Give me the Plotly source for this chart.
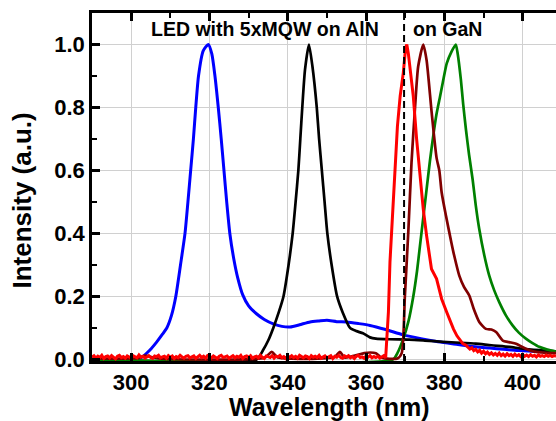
import numpy as np
import plotly.graph_objects as go

# ---- Electroluminescence spectra (normalised) ----
# LED with 5xMQW on AlN, 320 nm emitter
blue_wl = [290, 301, 302.5, 304.8, 306.5, 308, 309.1, 310.3, 311.4, 312.6, 313.75, 314.5,
           315.2, 315.9, 316.5, 317.2, 318.4, 319.7, 320.6, 321.4, 322.25, 323, 323.7, 324.4,
           325.2, 326.2, 327.2, 328.5, 330, 332, 334, 336.3, 338.5, 340.6, 343, 345.7,
           348, 350, 352.5, 355, 358, 361, 365, 369.5, 374, 378, 382, 386.5, 391.6, 395,
           399, 404, 408.5]
blue_int = [0, 0, 0.005, 0.03, 0.055, 0.08, 0.1, 0.14, 0.2, 0.3, 0.4, 0.5,
            0.6, 0.7, 0.8, 0.9, 0.98, 1.0, 0.97, 0.9, 0.8, 0.7, 0.6, 0.5,
            0.4, 0.32, 0.26, 0.205, 0.17, 0.145, 0.127, 0.113, 0.105, 0.103, 0.11, 0.119,
            0.122, 0.124, 0.12, 0.119, 0.114, 0.108, 0.095, 0.078, 0.066, 0.057, 0.05, 0.042, 0.036, 0.032,
            0.028, 0.025, 0.022]

# LED with 5xMQW on AlN, 345 nm emitter
black_wl = [290, 332, 333.7, 335, 336.3, 337.7, 338.9, 340.2, 341.25, 342, 342.7, 343.2,
            343.7, 344.4, 345.4, 346.3, 347.4, 348, 348.7, 349.4, 350.1, 351.2, 352.6, 354,
            355.9, 357.5, 359.2, 361, 362.5, 366, 371, 375, 379.6, 384, 388, 392, 396.6,
            400, 405, 408.5]
black_int = [0, 0, 0.03, 0.06, 0.1, 0.15, 0.2, 0.3, 0.4, 0.5, 0.6, 0.7,
             0.8, 0.92, 1.0, 0.93, 0.8, 0.7, 0.6, 0.5, 0.4, 0.3, 0.2, 0.15,
             0.1, 0.09, 0.083, 0.07, 0.066, 0.064, 0.063, 0.06, 0.056, 0.053, 0.05, 0.045, 0.04,
             0.034, 0.029, 0.026]

# LEDs on GaN
green_wl = [290, 366.9, 368, 369.5, 370.8, 372.05, 373, 373.75, 374.6, 375.45, 376.3, 377.15,
            378, 378.9, 379.6, 380.6, 381.85, 382.9, 383.4, 384.2, 384.8, 385.5, 386.3, 387.2,
            388, 388.9, 390.2, 391.45, 392.7, 394, 395.7, 397.4, 399, 400.8, 402.5, 404.2,
            406.3, 408.5]
green_int = [0, 0, 0.02, 0.066, 0.12, 0.2, 0.28, 0.36, 0.45, 0.54, 0.63, 0.71,
             0.78, 0.836, 0.88, 0.94, 0.978, 1.0, 0.97, 0.889, 0.81, 0.73, 0.65, 0.572,
             0.49, 0.414, 0.33, 0.266, 0.22, 0.182, 0.14, 0.108, 0.085, 0.066, 0.052, 0.04,
             0.031, 0.025]

maroon_wl = [290, 302, 303.5, 305, 307, 334, 335.9, 337.5, 352, 353.3, 354.5, 359.5,
             361, 362.5, 364, 368, 369.1, 369.9, 370.8, 371.6, 372.5, 373.3, 374.6, 375.45,
             376.7, 378, 378.7, 379.3, 380.4, 381.8, 382.5, 383.8, 385, 386.35, 387.5, 388.9,
             390.6, 392, 393.2, 394.9, 396.5, 398.3, 399.5, 400.8, 402, 403.4, 405, 406.8,
             408.5]
maroon_int = [0.003, 0.005, 0.012, 0.008, 0.003, 0.005, 0.024, 0.006, 0.008, 0.024, 0.006, 0.02,
              0.022, 0.02, 0.005, 0.003, 0.02, 0.2, 0.41, 0.625, 0.8, 0.93, 1.0, 0.95,
              0.79, 0.64, 0.6, 0.53, 0.456, 0.37, 0.33, 0.266, 0.23, 0.203, 0.16, 0.119,
              0.097, 0.095, 0.087, 0.06, 0.055, 0.05, 0.042, 0.034, 0.028, 0.024, 0.022, 0.02,
              0.02]

# red spectrum: noisy floor (0.5 nm steps), main peak, noisy tail (0.5 nm steps)
red_floor_start, red_floor_step = 290.0, 0.5
red_floor = [0.008, 0.012, 0.004, 0.010, 0.006, 0.013, 0.003, 0.009, 0.011, 0.005,
             0.012, 0.007, 0.002, 0.010, 0.013, 0.006, 0.009, 0.004, 0.011, 0.008,
             0.003, 0.012, 0.009, 0.005, 0.014, 0.007, 0.010, 0.004, 0.008, 0.012,
             0.006, 0.003, 0.011, 0.009, 0.013, 0.005, 0.008, 0.010, 0.004, 0.012,
             0.007, 0.011, 0.003, 0.009, 0.006, 0.013, 0.008, 0.004, 0.010, 0.012,
             0.005, 0.009, 0.011, 0.003, 0.008, 0.013, 0.006, 0.010, 0.004, 0.012,
             0.009, 0.005, 0.011, 0.007, 0.003, 0.010, 0.013, 0.006, 0.008, 0.011,
             0.004, 0.009, 0.012, 0.005, 0.010, 0.007, 0.013, 0.003, 0.009, 0.011,
             0.006, 0.012, 0.004, 0.008, 0.010, 0.005, 0.013, 0.007, 0.003, 0.011,
             0.009, 0.006, 0.012, 0.004, 0.010, 0.008, 0.013, 0.005, 0.009, 0.003,
             0.011, 0.007, 0.012, 0.006, 0.010, 0.004, 0.013, 0.008, 0.005, 0.011,
             0.009, 0.003, 0.012, 0.007, 0.010, 0.006, 0.013, 0.004, 0.008, 0.011,
             0.005, 0.009, 0.012, 0.003, 0.010, 0.007, 0.013, 0.006, 0.004, 0.011,
             0.008, 0.012, 0.005, 0.009, 0.003, 0.010, 0.013, 0.006, 0.008, 0.004,
             0.011, 0.007, 0.012, 0.005, 0.009, 0.006, 0.010, 0.004, 0.008, 0.012,
             0.005]
red_peak_wl = [365.7, 366.1, 366.8, 367.4, 368, 368.7, 369.5, 370.1, 370.4, 370.8, 371.2,
               372.05, 372.9, 373.8, 374.6, 375.45, 376.2, 376.7, 378, 378.6, 379.3, 380.6,
               381.5, 382.3, 383.2, 384, 384.7, 385.5]
red_peak_int = [0.15, 0.31, 0.48, 0.625, 0.74, 0.836, 0.91, 0.99, 1.0, 0.97, 0.93,
                0.836, 0.7, 0.572, 0.477, 0.393, 0.32, 0.287, 0.256, 0.23, 0.192, 0.15,
                0.12, 0.097, 0.075, 0.06, 0.05, 0.045]
red_tail_start, red_tail_step = 386.0, 0.5
red_tail = [0.040, 0.033, 0.037, 0.028, 0.032, 0.024, 0.029, 0.020, 0.026, 0.018,
            0.023, 0.016, 0.021, 0.014, 0.019, 0.013, 0.020, 0.012, 0.017, 0.011,
            0.018, 0.012, 0.016, 0.010, 0.017, 0.011, 0.015, 0.009, 0.016, 0.010,
            0.014, 0.009, 0.015, 0.010, 0.013, 0.008, 0.014, 0.010, 0.012, 0.009,
            0.014, 0.010, 0.013, 0.009, 0.012, 0.010]

x_ticks = [300, 320, 340, 360, 380, 400]
y_ticks = [0.0, 0.2, 0.4, 0.6, 0.8, 1.0]
gan_marker_wl = 369.7

red_wl = (list(red_floor_start + red_floor_step * np.arange(len(red_floor)))
          + red_peak_wl
          + list(red_tail_start + red_tail_step * np.arange(len(red_tail))))
red_int = red_floor + red_peak_int + red_tail

FONT = "Liberation Sans, Arial, sans-serif"

fig = go.Figure()
for wl, inten, color, width, shape in [
    (blue_wl, blue_int, "#0000ff", 3, "spline"),
    (black_wl, black_int, "#000000", 2.7, "spline"),
    (green_wl, green_int, "#008000", 2.7, "spline"),
    (maroon_wl, maroon_int, "#800000", 2.7, "spline"),
    (red_wl, red_int, "#ff0000", 3, "linear"),
]:
    fig.add_trace(go.Scatter(x=wl, y=inten, mode="lines",
                             line=dict(color=color, width=width, shape=shape, smoothing=0.6),
                             hoverinfo="skip"))

fig.add_shape(type="line", xref="x", yref="y domain",
              x0=gan_marker_wl, x1=gan_marker_wl, y0=0, y1=1,
              line=dict(color="black", width=2, dash="7px,4px"), layer="above")

label_font = dict(family=FONT, size=19.5, color="black", weight="bold")
fig.add_annotation(x=334.3, y=1.05, xref="x", yref="y", text="LED with 5xMQW on AlN",
                   showarrow=False, font=label_font, xanchor="center", yanchor="middle")
fig.add_annotation(x=380.9, y=1.05, xref="x", yref="y", text="on GaN",
                   showarrow=False, font=label_font, xanchor="center", yanchor="middle")

# axis titles
title_font = dict(family=FONT, size=25, color="black", weight="bold")
fig.add_annotation(x=0.5108, y=-0.133, xref="paper", yref="paper", text="Wavelength (nm)",
                   showarrow=False, font=title_font, xanchor="center", yanchor="middle")
fig.add_annotation(x=-0.1498, y=0.4626, xref="paper", yref="paper", text="Intensity (a.u.)",
                   showarrow=False, font=dict(title_font, size=26), textangle=-90,
                   xanchor="center", yanchor="middle")

axis_common = dict(
    showline=True, linewidth=2.5, linecolor="black",
    ticks="inside", ticklen=8, tickwidth=2.5, tickcolor="black",
    showgrid=True, gridcolor="#d0d0d0", gridwidth=1, zeroline=False,
)
fig.update_xaxes(
    range=[290, 408.5], tickvals=x_ticks, mirror="ticks",
    minor=dict(dtick=10, tick0=290, ticks="inside", ticklen=5, tickwidth=2,
               tickcolor="black", showgrid=False),
    tickfont=dict(family=FONT, size=22, weight="bold"),
    **axis_common)
fig.update_yaxes(
    range=[-0.005, 1.1], tickvals=y_ticks, tickformat=".1f",
    minor=dict(dtick=0.1, tick0=0, ticks="inside", ticklen=5, tickwidth=2,
               tickcolor="black", showgrid=False),
    tickfont=dict(family=FONT, size=22, weight="bold"),
    **axis_common)

fig.update_layout(
    width=556, height=421,
    margin=dict(l=92, r=0, t=13, b=60),
    plot_bgcolor="white", paper_bgcolor="white",
    showlegend=False,
    font=dict(family=FONT, color="black"),
)

fig.write_html("out.html")
